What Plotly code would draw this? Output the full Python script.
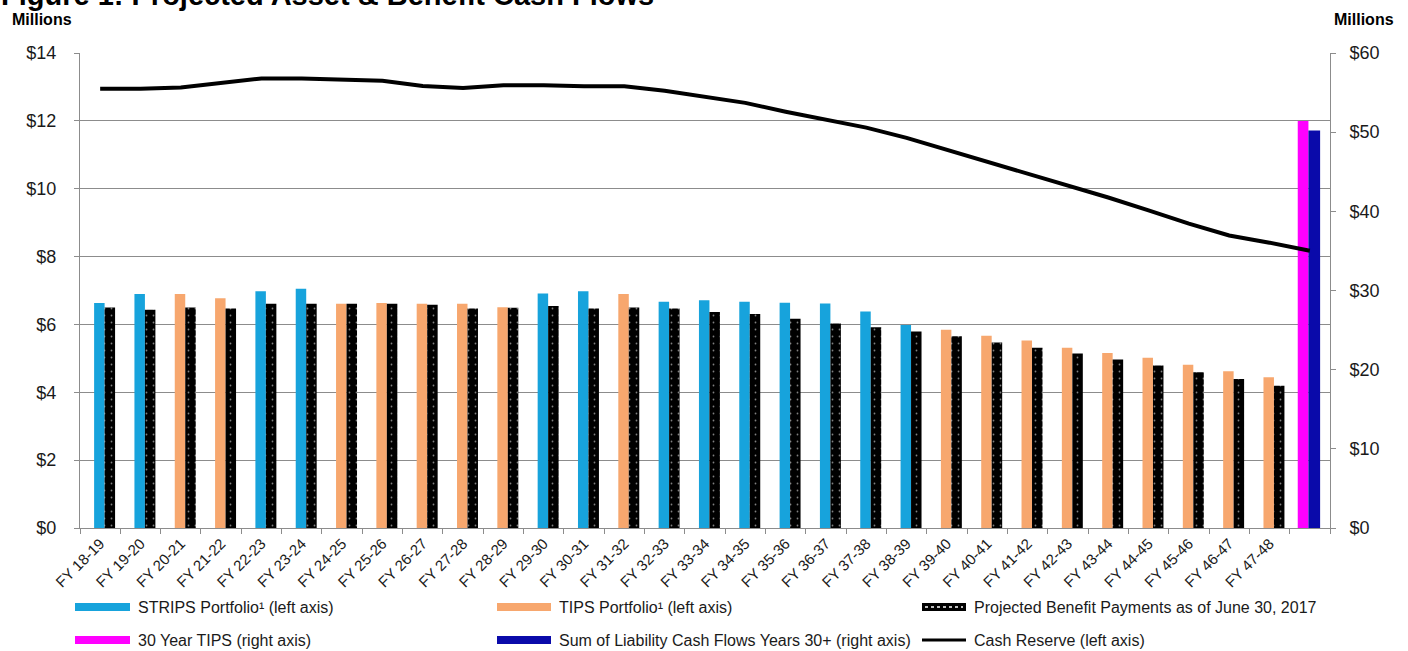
import plotly.graph_objects as go

# ---------------- data ----------------
categories = ["FY 18-19", "FY 19-20", "FY 20-21", "FY 21-22", "FY 22-23", "FY 23-24",
              "FY 24-25", "FY 25-26", "FY 26-27", "FY 27-28", "FY 28-29", "FY 29-30",
              "FY 30-31", "FY 31-32", "FY 32-33", "FY 33-34", "FY 34-35", "FY 35-36",
              "FY 36-37", "FY 37-38", "FY 38-39", "FY 39-40", "FY 40-41", "FY 41-42",
              "FY 42-43", "FY 43-44", "FY 44-45", "FY 45-46", "FY 46-47", "FY 47-48", " "]

strips = [6.63, 6.90, None, None, 6.98, 7.05, None, None, None, None, None, 6.91,
          6.98, None, 6.67, 6.71, 6.67, 6.64, 6.62, 6.38, 5.98, None, None, None,
          None, None, None, None, None, None, None]

tips = [None, None, 6.90, 6.77, None, None, 6.61, 6.63, 6.61, 6.61, 6.51, None,
        None, 6.90, None, None, None, None, None, None, None, 5.84, 5.67, 5.53,
        5.31, 5.16, 5.02, 4.81, 4.62, 4.44, None]

benefit = [6.50, 6.43, 6.50, 6.47, 6.61, 6.61, 6.61, 6.61, 6.58, 6.47, 6.49, 6.54,
           6.47, 6.50, 6.47, 6.37, 6.31, 6.17, 6.03, 5.92, 5.79, 5.65, 5.47, 5.31,
           5.14, 4.97, 4.79, 4.59, 4.39, 4.19, None]

tips_30yr = [None, None, None, None, None, None, None, None, None, None, None, None,
             None, None, None, None, None, None, None, None, None, None, None, None,
             None, None, None, None, None, None, 51.4]

liability_30plus = [None, None, None, None, None, None, None, None, None, None, None, None,
                    None, None, None, None, None, None, None, None, None, None, None, None,
                    None, None, None, None, None, None, 50.2]

cash_reserve = [12.95, 12.95, 12.98, 13.12, 13.25, 13.25, 13.22, 13.18, 13.03, 12.97,
                13.05, 13.05, 13.02, 13.02, 12.89, 12.71, 12.53, 12.27, 12.04, 11.80,
                11.50, 11.15, 10.80, 10.47, 10.12, 9.74, 9.36, 8.97, 8.62, 8.41, 8.17]

legend_labels = ["STRIPS Portfolio¹ (left axis)", "TIPS Portfolio¹ (left axis)",
                 "Projected Benefit Payments as of June 30, 2017",
                 "30 Year TIPS (right axis)",
                 "Sum of Liability Cash Flows Years 30+ (right axis)",
                 "Cash Reserve (left axis)"]

title_text = "Figure 1: Projected Asset & Benefit Cash Flows"
unit_text = "Millions"

# ---------------- style ----------------
C_STRIPS = "#17A3DC"
C_TIPS = "#F7A76E"
C_BENEFIT = "#000000"
C_30YR = "#FF00FF"
C_LIAB = "#0A0AAA"
GRID = "#8C8C8C"
AXIS = "#8C8C8C"
TXT = "#1a1a1a"
FONT = "Liberation Sans, Arial, sans-serif"

W, H = 1408, 651
L, R, T, B = 80, 1330, 53, 528


def px(x):
    return (x - L) / (R - L)


def py(y):
    return 1 - (y - T) / (B - T)


fig = go.Figure()

# right-axis bars (base axis y)
fig.add_trace(go.Bar(x=categories, y=tips_30yr, yaxis="y", marker_color=C_30YR,
                     marker_line_width=0, offset=-0.30, width=0.265, name=legend_labels[3]))
fig.add_trace(go.Bar(x=categories, y=liability_30plus, yaxis="y", marker_color=C_LIAB,
                     marker_line_width=0, offset=-0.035, width=0.29, name=legend_labels[4]))

# left-axis bars (overlay axis y2)
fig.add_trace(go.Bar(x=categories, y=strips, yaxis="y2", marker_color=C_STRIPS,
                     marker_line_width=0, offset=-0.15, width=0.26, name=legend_labels[0]))
fig.add_trace(go.Bar(x=categories, y=tips, yaxis="y2", marker_color=C_TIPS,
                     marker_line_width=0, offset=-0.15, width=0.26, name=legend_labels[1]))
fig.add_trace(go.Bar(x=categories, y=benefit, yaxis="y2",
                     marker=dict(color=C_BENEFIT, line_width=0,
                                 pattern=dict(shape=".", fgcolor="white", bgcolor="black",
                                              size=7, solidity=0.05)),
                     offset=0.11, width=0.26, name=legend_labels[2]))
fig.add_trace(go.Scatter(x=categories, y=cash_reserve, yaxis="y2", mode="lines",
                         line=dict(color="black", width=4), name=legend_labels[5]))

fig.update_traces(showlegend=False)

axis_font = dict(family=FONT, size=18, color=TXT)

fig.update_layout(
    width=W, height=H, autosize=False,
    margin=dict(l=L, r=W - R, t=T, b=H - B, pad=0),
    paper_bgcolor="white", plot_bgcolor="white",
    barmode="overlay",
    font=dict(family=FONT, color=TXT),
    xaxis=dict(type="category", range=[-0.5, 30.5], tickson="boundaries",
               ticks="outside", ticklen=5, tickcolor=AXIS, showline=True,
               linecolor=AXIS, linewidth=1, showgrid=False, tickangle=-45,
               tickfont=dict(family=FONT, size=15, color=TXT)),
    yaxis=dict(side="right", range=[0, 60], dtick=10, tickprefix="$",
               showgrid=False, zeroline=False, showline=True, linecolor=AXIS,
               ticks="outside", ticklen=5, tickcolor=AXIS, tickfont=axis_font,
               ticklabelstandoff=10),
    yaxis2=dict(side="left", overlaying="y", anchor="x", range=[0, 14], dtick=2,
                tickprefix="$", showgrid=True, gridcolor=GRID, gridwidth=1,
                zeroline=False, showline=True, linecolor=AXIS, ticks="outside",
                ticklen=5, tickcolor=AXIS, tickfont=axis_font, ticklabelstandoff=14),
)

annotations = [
    dict(text="<b>" + title_text + "</b>", x=px(-1), y=py(-5), xanchor="left",
         yanchor="middle", font=dict(family=FONT, size=29, color="black")),
    dict(text="<b>" + unit_text + "</b>", x=px(10), y=py(19), xanchor="left",
         yanchor="middle", font=dict(family=FONT, size=16, color="black")),
    dict(text="<b>" + unit_text + "</b>", x=px(1396), y=py(19), xanchor="right",
         yanchor="middle", font=dict(family=FONT, size=16, color="black")),
]

shapes = []
# manual legend: (label index, swatch x0, x1, row y, kind, color)
legend_items = [
    (0, 75, 130, 607, "bar", C_STRIPS),
    (1, 497, 551, 607, "bar", C_TIPS),
    (2, 922, 966, 607, "dots", C_BENEFIT),
    (3, 75, 130, 640, "bar", C_30YR),
    (4, 497, 551, 640, "bar", C_LIAB),
    (5, 922, 966, 640, "line", "black"),
]
for idx, x0, x1, yrow, kind, col in legend_items:
    if kind == "line":
        shapes.append(dict(type="line", xref="paper", yref="paper", x0=px(x0), x1=px(x1),
                           y0=py(yrow), y1=py(yrow), line=dict(color=col, width=3)))
    else:
        shapes.append(dict(type="rect", xref="paper", yref="paper", x0=px(x0), x1=px(x1),
                           y0=py(yrow - 4), y1=py(yrow + 4), fillcolor=col, line_width=0))
        if kind == "dots":
            shapes.append(dict(type="line", xref="paper", yref="paper", x0=px(x0 + 3),
                               x1=px(x1 - 3), y0=py(yrow), y1=py(yrow),
                               line=dict(color="white", width=1.5, dash="dot")))
    annotations.append(dict(text=legend_labels[idx], x=px(x1 + 6), y=py(yrow),
                            xanchor="left", yanchor="middle", showarrow=False,
                            font=dict(family=FONT, size=16, color=TXT)))

for a in annotations:
    a.update(xref="paper", yref="paper", showarrow=False)

fig.update_layout(annotations=annotations, shapes=shapes)

fig.write_html("out.html", config={"displayModeBar": False},
               post_script="document.body.style.margin='0px';")
